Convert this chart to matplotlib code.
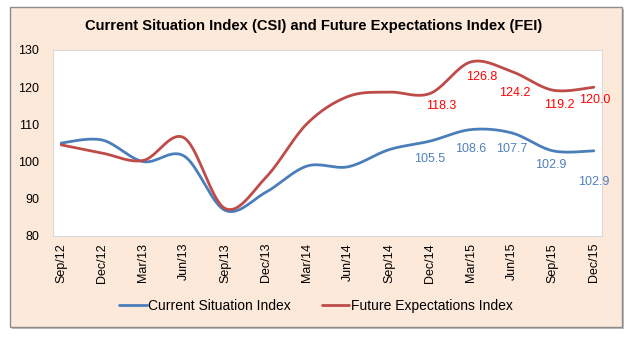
import matplotlib.pyplot as plt
import numpy as np
from matplotlib.patches import Rectangle

plt.rcParams["font.family"] = ["Liberation Sans", "DejaVu Sans"]

quarters = ["Sep/12", "Dec/12", "Mar/13", "Jun/13", "Sep/13", "Dec/13", "Mar/14",
            "Jun/14", "Sep/14", "Dec/14", "Mar/15", "Jun/15", "Sep/15", "Dec/15"]
csi = [105.0, 105.8, 100.0, 101.5, 86.9, 91.8, 98.8, 98.6, 103.2, 105.5,
       108.6, 107.7, 102.9, 102.9]
fei = [104.5, 102.3, 100.3, 106.4, 87.4, 95.8, 110.2, 117.5, 118.7, 118.3,
       126.8, 124.2, 119.2, 120.0]

# labels shown only for the last quarters
label_from = 9
csi_offsets = [(0, -18), (0, -19), (0, -16), (-2, -14), (0, -31)]
fei_offsets = [(11, -12), (11, -15), (3, -21), (6, -15), (1, -13)]

blue = "#4A7EBB"
red = "#BE4B48"
peach = "#FDE9D9"


def smooth(x, y, steps=20):
    # Bezier smoothing like the spreadsheet "smoothed line"
    px = np.concatenate([[x[0]], x, [x[-1]]])
    py = np.concatenate([[y[0]], y, [y[-1]]])
    out_x, out_y = [], []
    t = np.linspace(0, 1, steps)
    for i in range(1, len(px) - 2):
        p0 = np.array([px[i], py[i]])
        p3 = np.array([px[i + 1], py[i + 1]])
        c1 = p0 + (np.array([px[i + 1], py[i + 1]]) - np.array([px[i - 1], py[i - 1]])) / 6
        c2 = p3 - (np.array([px[i + 2], py[i + 2]]) - np.array([px[i], py[i]])) / 6
        pts = (((1 - t) ** 3)[:, None] * p0 + (3 * (1 - t) ** 2 * t)[:, None] * c1
               + (3 * (1 - t) * t ** 2)[:, None] * c2 + (t ** 3)[:, None] * p3)
        out_x.extend(pts[:, 0])
        out_y.extend(pts[:, 1])
    return np.array(out_x), np.array(out_y)


fig = plt.figure(figsize=(6.25, 3.39), dpi=100, facecolor="white")

# shadow and frame
fig.patches.append(Rectangle((12 / 625, 1 - 329 / 339), 612 / 625, 320 / 339,
                             transform=fig.transFigure, facecolor="#BFBFBF",
                             edgecolor="none", zorder=-2))
fig.patches.append(Rectangle((10 / 625, 1 - 327 / 339), 612 / 625, 320 / 339,
                             transform=fig.transFigure, facecolor=peach,
                             edgecolor="#8C8C8C", linewidth=1.0, zorder=-1))

ax = fig.add_axes([53 / 625, 1 - 236 / 339, 549 / 625, 186 / 339])
ax.set_facecolor("white")

x = np.arange(len(quarters))
sx, sy = smooth(x, csi)
ax.plot(sx, sy, color=blue, linewidth=2.0, solid_capstyle="round",
        label="Current Situation Index")
sx, sy = smooth(x, fei)
ax.plot(sx, sy, color=red, linewidth=2.0, solid_capstyle="round",
        label="Future Expectations Index")

for i, off in zip(range(label_from, len(quarters)), csi_offsets):
    ax.annotate(f"{csi[i]:.1f}", (x[i], csi[i]), xytext=off,
                textcoords="offset pixels", ha="center", va="center",
                fontsize=9, color="#4F81BD")
for i, off in zip(range(label_from, len(quarters)), fei_offsets):
    ax.annotate(f"{fei[i]:.1f}", (x[i], fei[i]), xytext=off,
                textcoords="offset pixels", ha="center", va="center",
                fontsize=9, color="#FF0000")

ax.set_xlim(-0.2, 13.2)
ax.set_ylim(80, 130)
ax.set_yticks([80, 90, 100, 110, 120, 130])
ax.set_xticks(x)
ax.set_xticklabels(quarters, rotation=90, fontsize=9)
ax.tick_params(axis="y", labelsize=9, length=0, pad=10)
ax.tick_params(axis="x", length=0, pad=5)
for s in ax.spines.values():
    s.set_color("#D9D9D9")
    s.set_linewidth(0.8)

fig.text(314 / 625, 1 - 26 / 339,
         "Current Situation Index (CSI) and Future Expectations Index (FEI)",
         ha="center", va="center", fontsize=10.6, fontweight="bold")

fig.legend(loc="center", bbox_to_anchor=(316 / 625, 1 - 306 / 339), ncol=2,
           frameon=False, fontsize=10, handlelength=2.0, handletextpad=0.1,
           columnspacing=2.2)

fig.savefig("out.png", dpi=100, facecolor="white")
